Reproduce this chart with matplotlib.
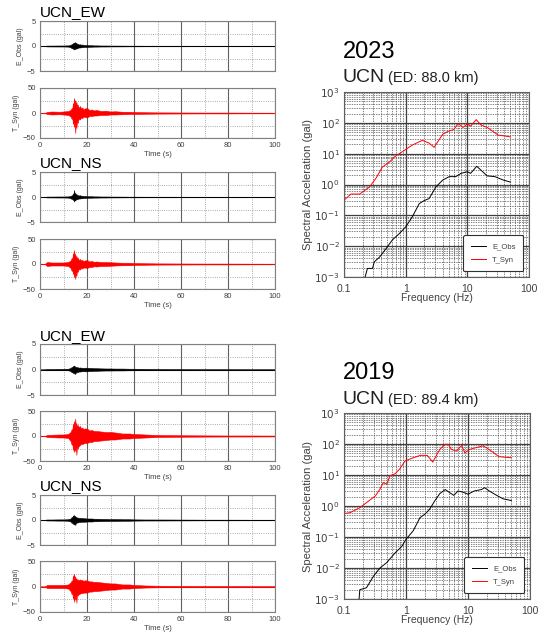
import matplotlib
matplotlib.use('Agg')
import matplotlib.pyplot as plt
from matplotlib.ticker import FixedLocator, NullFormatter

plt.rcParams['font.family'] = ['Liberation Sans', 'DejaVu Sans']

W, H = 539, 633

# envelope time knots (s) shared by all traces
t_env = [0, 2, 3, 5, 8, 10, 12, 13,
         13.5, 13.75, 14, 14.25, 14.5, 14.75, 15, 15.25, 15.5, 15.75, 16,
         16.5, 17, 17.5, 18, 18.5, 19, 20,
         21, 22, 23, 24, 26, 28, 30, 32, 35, 38, 40,
         45, 50, 60, 70, 80, 90, 100]

# 2023 waveforms (upper / lower envelopes, gal)
obs23_ew_up = [0, 0.03, 0.08, 0.08, 0.1, 0.1, 0.12, 0.2,
               0.4, 0.3, 0.6, 0.45, 0.7, 0.5, 0.8, 0.5, 0.6, 0.4, 0.45,
               0.3, 0.35, 0.25, 0.3, 0.2, 0.22, 0.18,
               0.15, 0.15, 0.12, 0.12, 0.1, 0.1, 0.08, 0.08, 0.07, 0.06, 0.06,
               0.05, 0.05, 0.05, 0.04, 0.04, 0.04, 0.03]
obs23_ew_lo = [0, -0.03, -0.08, -0.09, -0.1, -0.1, -0.12, -0.25,
               -0.45, -0.35, -0.6, -0.4, -0.7, -0.5, -0.6, -0.45, -0.55, -0.35, -0.4,
               -0.3, -0.3, -0.25, -0.25, -0.2, -0.2, -0.18,
               -0.15, -0.14, -0.12, -0.12, -0.1, -0.1, -0.08, -0.08, -0.07, -0.06, -0.06,
               -0.05, -0.05, -0.05, -0.04, -0.04, -0.04, -0.03]
syn23_ew_up = [0, 0, 2, 3, 2.5, 3, 4, 6,
               10, 8, 20, 14, 30, 18, 26, 15, 22, 12, 17,
               10, 14, 9, 11, 7, 9, 10,
               6, 7, 5, 6, 4, 4.5, 3, 3.5, 2.5, 2.5, 2,
               1.5, 1.2, 1, 0.8, 0.8, 0.6, 0.5]
syn23_ew_lo = [0, 0, -2, -3, -2.5, -3, -4, -7,
               -12, -9, -22, -16, -28, -20, -40, -18, -30, -14, -20,
               -11, -13, -9, -10, -7, -8, -9,
               -6, -6, -5, -5, -4, -4, -3, -3, -2.5, -2, -2,
               -1.5, -1.2, -1, -0.8, -0.8, -0.6, -0.5]
obs23_ns_up = [0, 0.03, 0.08, 0.08, 0.1, 0.1, 0.12, 0.2,
               0.35, 0.3, 0.7, 0.5, 1.4, 0.6, 0.8, 0.5, 0.6, 0.35, 0.4,
               0.3, 0.35, 0.25, 0.25, 0.2, 0.2, 0.15,
               0.15, 0.15, 0.12, 0.12, 0.1, 0.1, 0.08, 0.08, 0.07, 0.06, 0.06,
               0.05, 0.05, 0.05, 0.04, 0.04, 0.04, 0.03]
obs23_ns_lo = [0, -0.03, -0.08, -0.08, -0.1, -0.1, -0.12, -0.25,
               -0.4, -0.3, -0.6, -0.45, -0.9, -0.5, -0.7, -0.45, -0.5, -0.35, -0.4,
               -0.3, -0.3, -0.25, -0.25, -0.2, -0.2, -0.15,
               -0.15, -0.14, -0.12, -0.12, -0.1, -0.1, -0.08, -0.08, -0.07, -0.06, -0.06,
               -0.05, -0.05, -0.05, -0.04, -0.04, -0.04, -0.03]
syn23_ns_up = [0, 0, 4, 3, 3, 3, 4, 7,
               12, 9, 22, 15, 28, 17, 20, 12, 16, 10, 13,
               8, 10, 7, 8, 6, 7, 8,
               5, 6, 4.5, 5, 4, 4, 3.5, 3, 2.5, 2.5, 2,
               1.5, 1.2, 1, 0.8, 0.8, 0.6, 0.5]
syn23_ns_lo = [0, 0, -4, -3, -3, -3, -4, -8,
               -14, -10, -20, -16, -26, -18, -30, -16, -24, -12, -16,
               -10, -11, -8, -9, -7, -7, -8,
               -6, -6, -4.5, -5, -4, -4, -3.5, -3, -2.5, -2.5, -2,
               -1.5, -1.2, -1, -0.8, -0.8, -0.6, -0.5]

# 2019 waveforms
obs19_ew_up = [0, 0.03, 0.1, 0.1, 0.12, 0.12, 0.15, 0.3,
               0.5, 0.4, 0.7, 0.5, 0.8, 0.55, 0.6, 0.45, 0.5, 0.4, 0.45,
               0.35, 0.4, 0.35, 0.35, 0.3, 0.35, 0.35,
               0.3, 0.3, 0.25, 0.25, 0.22, 0.2, 0.2, 0.18, 0.18, 0.15, 0.15,
               0.12, 0.1, 0.08, 0.06, 0.06, 0.05, 0.05]
obs19_ew_lo = [0, -0.03, -0.1, -0.1, -0.12, -0.12, -0.15, -0.3,
               -0.55, -0.4, -0.7, -0.5, -0.8, -0.6, -0.9, -0.5, -0.6, -0.45, -0.5,
               -0.4, -0.4, -0.35, -0.35, -0.3, -0.35, -0.35,
               -0.3, -0.3, -0.25, -0.25, -0.22, -0.2, -0.2, -0.18, -0.18, -0.15, -0.15,
               -0.12, -0.1, -0.08, -0.06, -0.06, -0.05, -0.05]
syn19_ew_up = [0, 0, 2, 2.5, 3, 3, 4, 8,
               14, 10, 25, 16, 30, 20, 35, 18, 26, 16, 22,
               18, 20, 15, 17, 14, 15, 15,
               11, 12, 10, 10, 9, 8, 8, 7, 5, 5, 4,
               3, 2, 1.5, 1.2, 1, 1, 0.8]
syn19_ew_lo = [0, 0, -2, -2.5, -3, -3, -4, -10,
               -18, -12, -28, -18, -32, -22, -30, -20, -38, -18, -25,
               -20, -18, -16, -16, -15, -14, -14,
               -12, -12, -10, -10, -9, -8, -7, -7, -5, -5, -4,
               -3, -2, -1.5, -1.2, -1, -1, -0.8]
obs19_ns_up = [0, 0.03, 0.1, 0.1, 0.12, 0.12, 0.15, 0.3,
               0.6, 0.5, 0.9, 0.6, 1.0, 0.6, 0.8, 0.5, 0.6, 0.45, 0.5,
               0.4, 0.45, 0.35, 0.4, 0.35, 0.35, 0.3,
               0.3, 0.3, 0.25, 0.25, 0.22, 0.2, 0.18, 0.18, 0.15, 0.15, 0.12,
               0.1, 0.1, 0.08, 0.06, 0.06, 0.05, 0.05]
obs19_ns_lo = [0, -0.03, -0.1, -0.1, -0.12, -0.12, -0.15, -0.3,
               -0.6, -0.45, -0.8, -0.6, -0.9, -0.6, -1.0, -0.55, -0.6, -0.45, -0.5,
               -0.4, -0.4, -0.35, -0.35, -0.35, -0.35, -0.3,
               -0.3, -0.3, -0.25, -0.25, -0.22, -0.2, -0.18, -0.18, -0.15, -0.15, -0.12,
               -0.1, -0.1, -0.08, -0.06, -0.06, -0.05, -0.05]
syn19_ns_up = [0, 0, 3, 3, 3, 3, 4, 8,
               12, 9, 22, 14, 25, 14, 20, 12, 16, 13, 14,
               12, 14, 12, 13, 11, 12, 12,
               10, 10, 9, 9, 8, 7, 6, 6, 4, 4, 3,
               2, 1.5, 1.2, 1, 1, 0.8, 0.8]
syn19_ns_lo = [0, 0, -3, -3, -3, -3, -4, -9,
               -15, -11, -24, -16, -30, -18, -26, -16, -32, -14, -18,
               -15, -14, -13, -13, -12, -12, -12,
               -10, -10, -9, -9, -8, -7, -6, -6, -4, -4, -3,
               -2, -1.5, -1.2, -1, -1, -0.8, -0.8]

# response spectra (Hz, gal)
f23_obs = [0.22, 0.24, 0.29, 0.31, 0.38, 0.48, 0.61, 0.78, 1.0, 1.28, 1.66, 1.99, 2.4, 3.1, 4.0, 5.1,
           6.5, 7.9, 10, 11.3, 14.2, 17.7, 21, 28, 38, 50]
sa23_obs = [0.001, 0.0019, 0.0019, 0.0031, 0.0045, 0.0083, 0.016, 0.025, 0.042, 0.089, 0.24, 0.30, 0.35,
            0.84, 1.4, 1.8, 1.8, 2.3, 2.6, 2.3, 3.9, 2.6, 1.9, 1.8, 1.4, 1.2]
f23_syn = [0.1, 0.13, 0.18, 0.26, 0.33, 0.42, 0.55, 0.66, 0.88, 1.28, 1.86, 2.4, 2.9, 3.3, 4.0, 5.1,
           6.0, 7.1, 8.5, 10, 11.3, 13.9, 16.8, 21, 31.6, 42, 50]
sa23_syn = [0.31, 0.49, 0.49, 0.84, 1.6, 3.7, 5.4, 7.9, 11.5, 19, 27, 22, 16, 24, 43, 55,
            60, 95, 71, 91, 78, 127, 84, 71, 40, 37, 35]

f19_obs = [0.175, 0.18, 0.23, 0.3, 0.38, 0.49, 0.67, 0.85, 1.0, 1.31, 1.68, 2.0, 2.4, 2.9, 3.5, 4.3,
           5.2, 5.9, 6.9, 8.3, 10, 12.6, 16.5, 18.5, 22, 29, 37, 50]
sa19_obs = [0.001, 0.002, 0.0023, 0.0055, 0.01, 0.015, 0.031, 0.049, 0.084, 0.16, 0.42, 0.54, 0.78, 1.45,
            2.5, 3.4, 2.6, 2.2, 3.05, 2.8, 2.4, 3.05, 3.4, 3.9, 3.05, 2.2, 1.7, 1.5]
f19_syn = [0.1, 0.125, 0.18, 0.25, 0.32, 0.38, 0.43, 0.49, 0.55, 0.67, 0.8, 0.96, 1.16, 1.7, 2.2, 2.7,
           3.1, 3.5, 4.3, 4.8, 5.4, 6.5, 7.9, 8.9, 10.6, 13.4, 17.5, 19.8, 26, 31.6, 50]
sa19_syn = [0.57, 0.61, 0.88, 1.45, 2.1, 3.5, 5.7, 5.0, 9.4, 11, 16, 28, 33, 43, 43, 26,
            43, 67, 98, 98, 67, 59, 90, 52, 67, 76, 87, 76, 52, 39, 36]

GRAY = '#404040'


def px_axes(fig, x0, y0, x1, y1):
    return fig.add_axes([x0 / W, 1 - y1 / H, (x1 - x0) / W, (y1 - y0) / H])


def wave_axes(fig, y0, y1, up, lo, color, lim, ylabel, show_x):
    ax = px_axes(fig, 40, y0, 275, y1)
    ax.fill_between(t_env, lo, up, color=color, lw=0.4)
    ax.plot([0, 100], [0, 0], color=color, lw=0.6)
    ax.set_xlim(0, 100)
    ax.set_ylim(-lim, lim)
    ax.set_xticks([0, 20, 40, 60, 80, 100])
    ax.set_xticks([10, 30, 50, 70, 90], minor=True)
    ax.set_yticks([-lim, 0, lim])
    ax.set_yticks([-lim / 2, lim / 2], minor=True)
    ax.grid(True, which='major', color='#606060', lw=0.8)
    ax.grid(True, which='minor', color='#909090', lw=0.6, ls=':')
    ax.set_axisbelow(True)
    ax.tick_params(which='both', length=0, labelsize=5.5, labelcolor=GRAY, pad=3)
    if not show_x:
        ax.tick_params(axis='x', labelbottom=False)
    else:
        ax.set_xlabel('Time (s)', fontsize=5.5, color=GRAY, labelpad=1)
    ax.set_ylabel(ylabel, fontsize=5, color=GRAY, labelpad=2)
    for s in ax.spines.values():
        s.set_color('#808080')
        s.set_linewidth(0.8)
    return ax


# decade grid positions inside the axis ranges
x_major = [0.1, 1, 10, 100]
x_minor = [m * d for d in [0.1, 1, 10] for m in range(2, 10)]
y_major = [1e-3, 1e-2, 1e-1, 1, 10, 100, 1000]
y_minor = [m * d for d in y_major[:-1] for m in range(2, 10)]


def spec_axes(fig, x0, y0, x1, y1, fo, so, fs, ss):
    ax = px_axes(fig, x0, y0, x1, y1)
    ax.plot(fo, so, color='black', lw=0.7, label='E_Obs')
    ax.plot(fs, ss, color='red', lw=0.7, label='T_Syn')
    ax.set_xscale('log')
    ax.set_yscale('log')
    ax.set_xlim(0.1, 100)
    ax.set_ylim(1e-3, 1e3)
    ax.xaxis.set_major_locator(FixedLocator(x_major))
    ax.xaxis.set_minor_locator(FixedLocator(x_minor))
    ax.yaxis.set_major_locator(FixedLocator(y_major))
    ax.yaxis.set_minor_locator(FixedLocator(y_minor))
    ax.set_xticklabels(['0.1', '1', '10', '100'])
    ax.set_yticklabels(['$10^{-3}$', '$10^{-2}$', '$10^{-1}$', '$10^{0}$',
                        '$10^{1}$', '$10^{2}$', '$10^{3}$'])
    ax.xaxis.set_minor_formatter(NullFormatter())
    ax.yaxis.set_minor_formatter(NullFormatter())
    ax.grid(True, which='major', color='#404040', lw=0.9)
    ax.grid(True, which='minor', color='#505050', lw=0.5, ls=(0, (2, 1.5)))
    ax.set_axisbelow(True)
    ax.tick_params(which='both', length=0, labelsize=7.5, labelcolor=GRAY)
    ax.tick_params(axis='x', pad=5)
    ax.tick_params(axis='y', pad=3)
    ax.set_xlabel('Frequency (Hz)', fontsize=7.5, color=GRAY, labelpad=-1)
    ax.set_ylabel('Spectral Acceleration (gal)', fontsize=8, color=GRAY, labelpad=1)
    for s in ax.spines.values():
        s.set_color('#606060')
    leg = ax.legend(loc='lower right', fontsize=5.5, fancybox=True, framealpha=1,
                    edgecolor='#303030', borderpad=1.0, labelspacing=0.8, handlelength=2.0,
                    bbox_to_anchor=(0.99, 0.01))
    leg.get_frame().set_linewidth(0.8)
    for txt in leg.get_texts():
        txt.set_color(GRAY)
    return ax


fig = plt.figure(figsize=(W / 100, H / 100), dpi=100)

blocks = [
    ('UCN_EW', 12, (21, 71), (88, 138), obs23_ew_up, obs23_ew_lo, syn23_ew_up, syn23_ew_lo),
    ('UCN_NS', 163, (172, 222), (239, 289), obs23_ns_up, obs23_ns_lo, syn23_ns_up, syn23_ns_lo),
    ('UCN_EW', 336, (344, 395), (411, 461), obs19_ew_up, obs19_ew_lo, syn19_ew_up, syn19_ew_lo),
    ('UCN_NS', 486, (495, 545), (561, 612), obs19_ns_up, obs19_ns_lo, syn19_ns_up, syn19_ns_lo),
]
for name, ty, (a0, a1), (b0, b1), ou, ol, su, sl in blocks:
    fig.text(40 / W, 1 - ty / H, name, fontsize=11, va='center', ha='left')
    wave_axes(fig, a0, a1, ou, ol, 'black', 5, 'E_Obs (gal)', False)
    wave_axes(fig, b0, b1, su, sl, 'red', 50, 'T_Syn (gal)', True)

# right-hand spectra
fig.text(343 / W, 1 - 52 / H, '2023', fontsize=17, va='center', ha='left')
fig.text(343 / W, 1 - 77 / H, 'UCN', fontsize=14, va='center', ha='left', color='#202020')
fig.text(388 / W, 1 - 78 / H, '(ED: 88.0 km)', fontsize=10.5, va='center', ha='left', color='#202020')
spec_axes(fig, 344, 92, 529, 277, f23_obs, sa23_obs, f23_syn, sa23_syn)

fig.text(343 / W, 1 - 373 / H, '2019', fontsize=17, va='center', ha='left')
fig.text(343 / W, 1 - 399 / H, 'UCN', fontsize=14, va='center', ha='left', color='#202020')
fig.text(388 / W, 1 - 400 / H, '(ED: 89.4 km)', fontsize=10.5, va='center', ha='left', color='#202020')
spec_axes(fig, 344, 413, 530, 599, f19_obs, sa19_obs, f19_syn, sa19_syn)

fig.savefig('out.png', dpi=100)
